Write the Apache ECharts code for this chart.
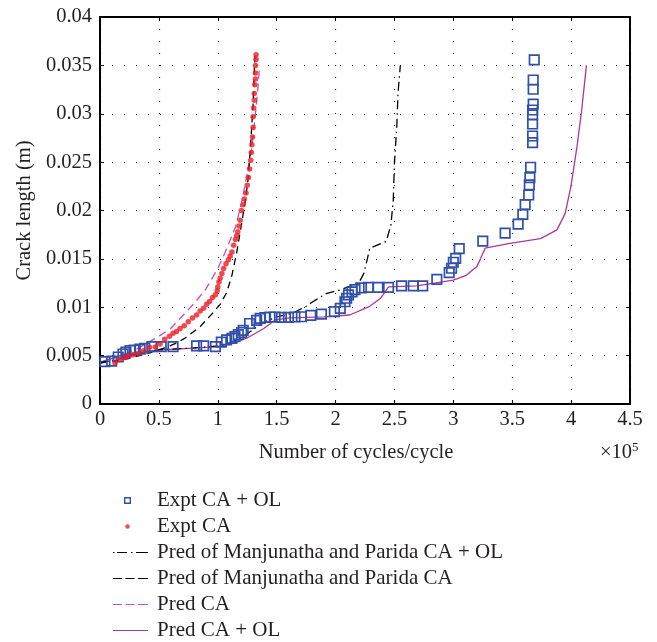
<!DOCTYPE html>
<html>
<head>
<meta charset="utf-8">
<script src="https://cdn.jsdelivr.net/npm/echarts@6/dist/echarts.min.js"></script>
<style>
html,body{margin:0;padding:0;background:#fff;}
#chart{width:657px;height:642px;}
</style>
</head>
<body>
<div id="chart"></div>
<script>
// x values in units of 1e5 cycles, y values crack length in m
const xTickLabels = ['0','0.5','1','1.5','2','2.5','3','3.5','4','4.5'];
const yTickLabels = ['0','0.005','0.01','0.015','0.02','0.025','0.03','0.035','0.04'];

const exptCAOL = [
[0.042,0.00437],[0.099,0.00444],[0.155,0.00486],[0.195,0.00517],[0.22,0.00537],[0.255,0.00553],
[0.29,0.00558],[0.34,0.00568],[0.38,0.00576],[0.44,0.00592],[0.52,0.00592],[0.62,0.00592],
[0.82,0.0060],[0.88,0.0060],[0.98,0.00594],[1.03,0.0064],[1.075,0.00662],[1.12,0.00679],
[1.146,0.00696],[1.174,0.00718],[1.203,0.00739],[1.216,0.0076],[1.27,0.00832],[1.33,0.00865],
[1.36,0.00886],[1.40,0.00894],[1.443,0.00899],[1.486,0.00899],[1.54,0.00896],[1.60,0.00896],
[1.655,0.00899],[1.71,0.00902],[1.79,0.00915],[1.88,0.00928],[1.99,0.00954],[2.04,0.00989],
[2.08,0.01057],[2.094,0.01093],[2.11,0.01127],[2.14,0.01158],[2.165,0.01183],[2.22,0.0120],
[2.28,0.01206],[2.36,0.01206],[2.45,0.01206],[2.56,0.0122],[2.66,0.0122],[2.74,0.0122],
[2.86,0.01289],[2.965,0.01357],[2.985,0.01403],[3.0,0.01465],[3.02,0.01506],[3.05,0.01605],
[3.25,0.01683],[3.44,0.01767],[3.55,0.0186],[3.59,0.0196],[3.61,0.0206],[3.64,0.0216],
[3.645,0.02264],[3.65,0.02339],[3.656,0.02447],[3.673,0.02701],[3.673,0.0277],[3.673,0.02894],
[3.673,0.02987],[3.673,0.03039],[3.678,0.031],[3.678,0.03253],[3.678,0.03349],[3.687,0.03556]
];

const exptCA = [
[0.127,0.00427],[0.17,0.0046],[0.21,0.0048],[0.24,0.00496],[0.28,0.0051],[0.325,0.00524],
[0.37,0.0055],[0.42,0.00586],[0.47,0.0059],[0.51,0.0062],[0.55,0.0067],[0.59,0.0070],
[0.62,0.0073],[0.65,0.0075],[0.68,0.0078],[0.715,0.0081],[0.75,0.0085],[0.785,0.0089],
[0.82,0.0092],[0.85,0.0096],[0.88,0.0099],[0.905,0.0103],[0.93,0.0106],[0.955,0.0110],
[0.98,0.0113],[0.995,0.0117],[1.0,0.0121],[1.01,0.0126],[1.02,0.0130],[1.035,0.0135],
[1.05,0.0140],[1.07,0.0145],[1.09,0.0149],[1.105,0.0153],[1.12,0.0157],[1.135,0.0164],
[1.15,0.0170],[1.16,0.0174],[1.17,0.0178],[1.18,0.0184],[1.19,0.0190],[1.20,0.0200],
[1.215,0.0206],[1.225,0.0212],[1.24,0.0218],[1.25,0.0226],[1.26,0.0234],[1.27,0.0243],
[1.28,0.0252],[1.285,0.0260],[1.29,0.0268],[1.295,0.0276],[1.30,0.0286],[1.30,0.0297],
[1.305,0.0306],[1.31,0.0314],[1.31,0.0321],[1.315,0.0330],[1.32,0.0336],[1.32,0.0342],
[1.32,0.0350],[1.325,0.0356],[1.325,0.0361]
];

const manjCAOL = [
[0,0.0042],[0.3,0.0051],[0.5,0.0056],[0.8,0.0058],[1.0,0.0060],[1.1,0.0063],[1.2,0.0068],
[1.3,0.0077],[1.4,0.0085],[1.5,0.0090],[1.64,0.0094],[1.75,0.0101],[1.81,0.0106],[1.92,0.0114],
[2.04,0.0118],[2.15,0.0123],[2.21,0.0128],[2.24,0.0135],[2.27,0.0150],[2.29,0.0161],
[2.43,0.0168],[2.47,0.0185],[2.49,0.0211],[2.50,0.0249],[2.52,0.0287],[2.53,0.0321],[2.55,0.035]
];

const manjCA = [
[0,0.0043],[0.2,0.0046],[0.4,0.0052],[0.55,0.0058],[0.65,0.0063],[0.72,0.0068],[0.85,0.0080],
[0.95,0.0093],[1.02,0.0103],[1.075,0.0115],[1.12,0.0133],[1.16,0.0156],[1.2,0.0185],
[1.23,0.0207],[1.26,0.0235],[1.28,0.027],[1.30,0.031],[1.31,0.0345],[1.315,0.036]
];

const predCA = [
[0,0.0043],[0.1,0.0047],[0.2,0.0051],[0.3,0.0056],[0.4,0.0063],[0.5,0.0070],[0.6,0.0078],
[0.7,0.0091],[0.8,0.0104],[0.9,0.0119],[1.0,0.0140],[1.06,0.0156],[1.1,0.0168],[1.15,0.0183],
[1.2,0.0207],[1.245,0.0235],[1.29,0.0266],[1.32,0.030],[1.34,0.0325],[1.355,0.035]
];

const predCAOL = [
[0,0.0043],[0.2,0.0051],[0.5,0.0056],[1.0,0.0059],[1.13,0.0063],[1.245,0.0068],[1.39,0.0078],
[1.49,0.0087],[1.61,0.0089],[1.9,0.0090],[2.12,0.0092],[2.29,0.0101],[2.38,0.0109],[2.45,0.0121],
[2.69,0.0122],[3.0,0.0128],[3.11,0.0133],[3.2,0.0142],[3.27,0.0161],[3.48,0.0166],[3.74,0.0171],
[3.88,0.0180],[3.95,0.0197],[4.0,0.0226],[4.05,0.0266],[4.09,0.0304],[4.13,0.035]
];

const seriesNames = [
  'Expt CA + OL',
  'Expt CA',
  'Pred of Manjunatha and Parida CA + OL',
  'Pred of Manjunatha and Parida CA',
  'Pred CA',
  'Pred CA + OL'
];

const FONT = 'Liberation Serif';
const FS = 20.5;
const LFS = 21;
const TXT = '#231f20';
const BLUE = '#2f4fa8', RED = '#ee1c24', BLACK = '#000000', MAG_D = '#c84fb0', MAG = '#b0369a';
const legendColors = [BLUE, RED, BLACK, BLACK, MAG_D, MAG];
const BOX = 'M0,0 M35,14 ';
const legendIcons = [
  'path://' + BOX + 'M11,3.5h7v7h-7z M12.4,4.9v4.2h4.2v-4.2z',
  'path://' + BOX + 'M12.3,7a2.2,2.2 0 1,0 4.4,0a2.2,2.2 0 1,0 -4.4,0z',
  'path://' + BOX + 'M0,6.4h1.6v1.2h-1.6z M4,6.4h10v1.2h-10z M18,6.4h1.6v1.2h-1.6z M23,6.4h12v1.2h-12z',
  'path://' + BOX + 'M0,6.4h9v1.2h-9z M12.5,6.4h9v1.2h-9z M25,6.4h10v1.2h-10z',
  'path://' + BOX + 'M0,6.4h9v1.2h-9z M12.5,6.4h9v1.2h-9z M25,6.4h10v1.2h-10z',
  'path://' + BOX + 'M0,6.4h35v1.2h-35z'
];

const chart = echarts.init(document.getElementById('chart'), null, {renderer: 'canvas'});

const axisCommon = {
  axisLine: {show: true, onZero: false, lineStyle: {color: '#000', width: 2}},
  axisTick: {show: true, inside: true, length: 4, lineStyle: {color: '#000', width: 1}},
  minorTick: {show: false}
};

chart.setOption({
  animation: false,
  backgroundColor: '#fff',
  grid: {left: 100, top: 17, width: 530, height: 387, outerBoundsMode: 'none', containLabel: false},
  xAxis: [
    Object.assign({
      type: 'value', min: 0, max: 4.5, interval: 0.5, position: 'bottom',
      name: 'Number of cycles/cycle', nameLocation: 'middle', nameGap: 38,
      nameTextStyle: {fontFamily: FONT, fontSize: FS, color: TXT, padding: [0, 18, 0, 0]},
      axisLabel: {fontFamily: FONT, fontSize: FS, color: TXT, margin: 5,
        formatter: (v) => xTickLabels[Math.round(v / 0.5)]},
      splitLine: {show: true, lineStyle: {color: '#222', width: 1.2, type: [1, 11]}}
    }, axisCommon),
    Object.assign({
      type: 'value', min: 0, max: 4.5, interval: 0.5, position: 'top',
      axisLabel: {show: false}, splitLine: {show: false}
    }, axisCommon)
  ],
  yAxis: [
    Object.assign({
      type: 'value', min: 0, max: 0.04, interval: 0.005, position: 'left',
      name: 'Crack length (m)', nameLocation: 'middle', nameGap: 64, nameRotate: 90,
      nameTextStyle: {fontFamily: FONT, fontSize: FS, color: TXT},
      axisLabel: {fontFamily: FONT, fontSize: FS, color: TXT, margin: 8,
        formatter: (v) => yTickLabels[Math.round(v / 0.005)]},
      splitLine: {show: true, lineStyle: {color: '#222', width: 1.2, type: [1, 11]}}
    }, axisCommon),
    Object.assign({
      type: 'value', min: 0, max: 0.04, interval: 0.005, position: 'right',
      axisLabel: {show: false}, splitLine: {show: false}
    }, axisCommon)
  ],
  legend: {
    orient: 'vertical', left: 108, top: 485, height: 220, selectedMode: false,
    itemWidth: 35, itemHeight: 14, itemGap: 5,
    itemStyle: {borderWidth: 0},
    textStyle: {fontFamily: FONT, fontSize: LFS, color: TXT, lineHeight: 18, padding: [0, 0, 0, 4]},
    data: seriesNames.map((n, i) => ({name: n, icon: legendIcons[i], itemStyle: {color: legendColors[i], borderWidth: 0}}))
  },
  graphic: [{
    type: 'text', left: 600, top: 441,
    style: {
      text: '×10{s|5}', fontFamily: FONT, fontSize: FS, fill: TXT,
      rich: {s: {fontFamily: FONT, fontSize: 13, fill: TXT, verticalAlign: 'top', padding: [0, 0, 10, 0]}}
    }
  }],
  series: [
    {name: seriesNames[4], type: 'line', data: predCA, showSymbol: false, symbol: 'none',
     color: MAG_D, lineStyle: {color: MAG_D, width: 1.3, type: [8, 5]}, z: 2},
    {name: seriesNames[5], type: 'line', data: predCAOL, showSymbol: false, symbol: 'none',
     color: MAG, lineStyle: {color: MAG, width: 1.3, type: 'solid'}, z: 2},
    {name: seriesNames[3], type: 'line', data: manjCA, showSymbol: false, symbol: 'none',
     color: BLACK, lineStyle: {color: BLACK, width: 1.3, type: [7, 5]}, z: 2},
    {name: seriesNames[2], type: 'line', data: manjCAOL, showSymbol: false, symbol: 'none',
     color: BLACK, lineStyle: {color: BLACK, width: 1.3, type: [9, 4, 1.5, 4]}, z: 2},
    {name: seriesNames[0], type: 'scatter', data: exptCAOL, symbol: 'rect', symbolSize: 9.5,
     color: BLUE, itemStyle: {color: 'rgba(0,0,0,0)', borderColor: BLUE, borderWidth: 1.7, opacity: 1}, z: 3},
    {name: seriesNames[1], type: 'scatter', data: exptCA, symbol: 'circle', symbolSize: 5.5,
     color: RED, itemStyle: {color: RED}, z: 4}
  ]
});
</script>
</body>
</html>
